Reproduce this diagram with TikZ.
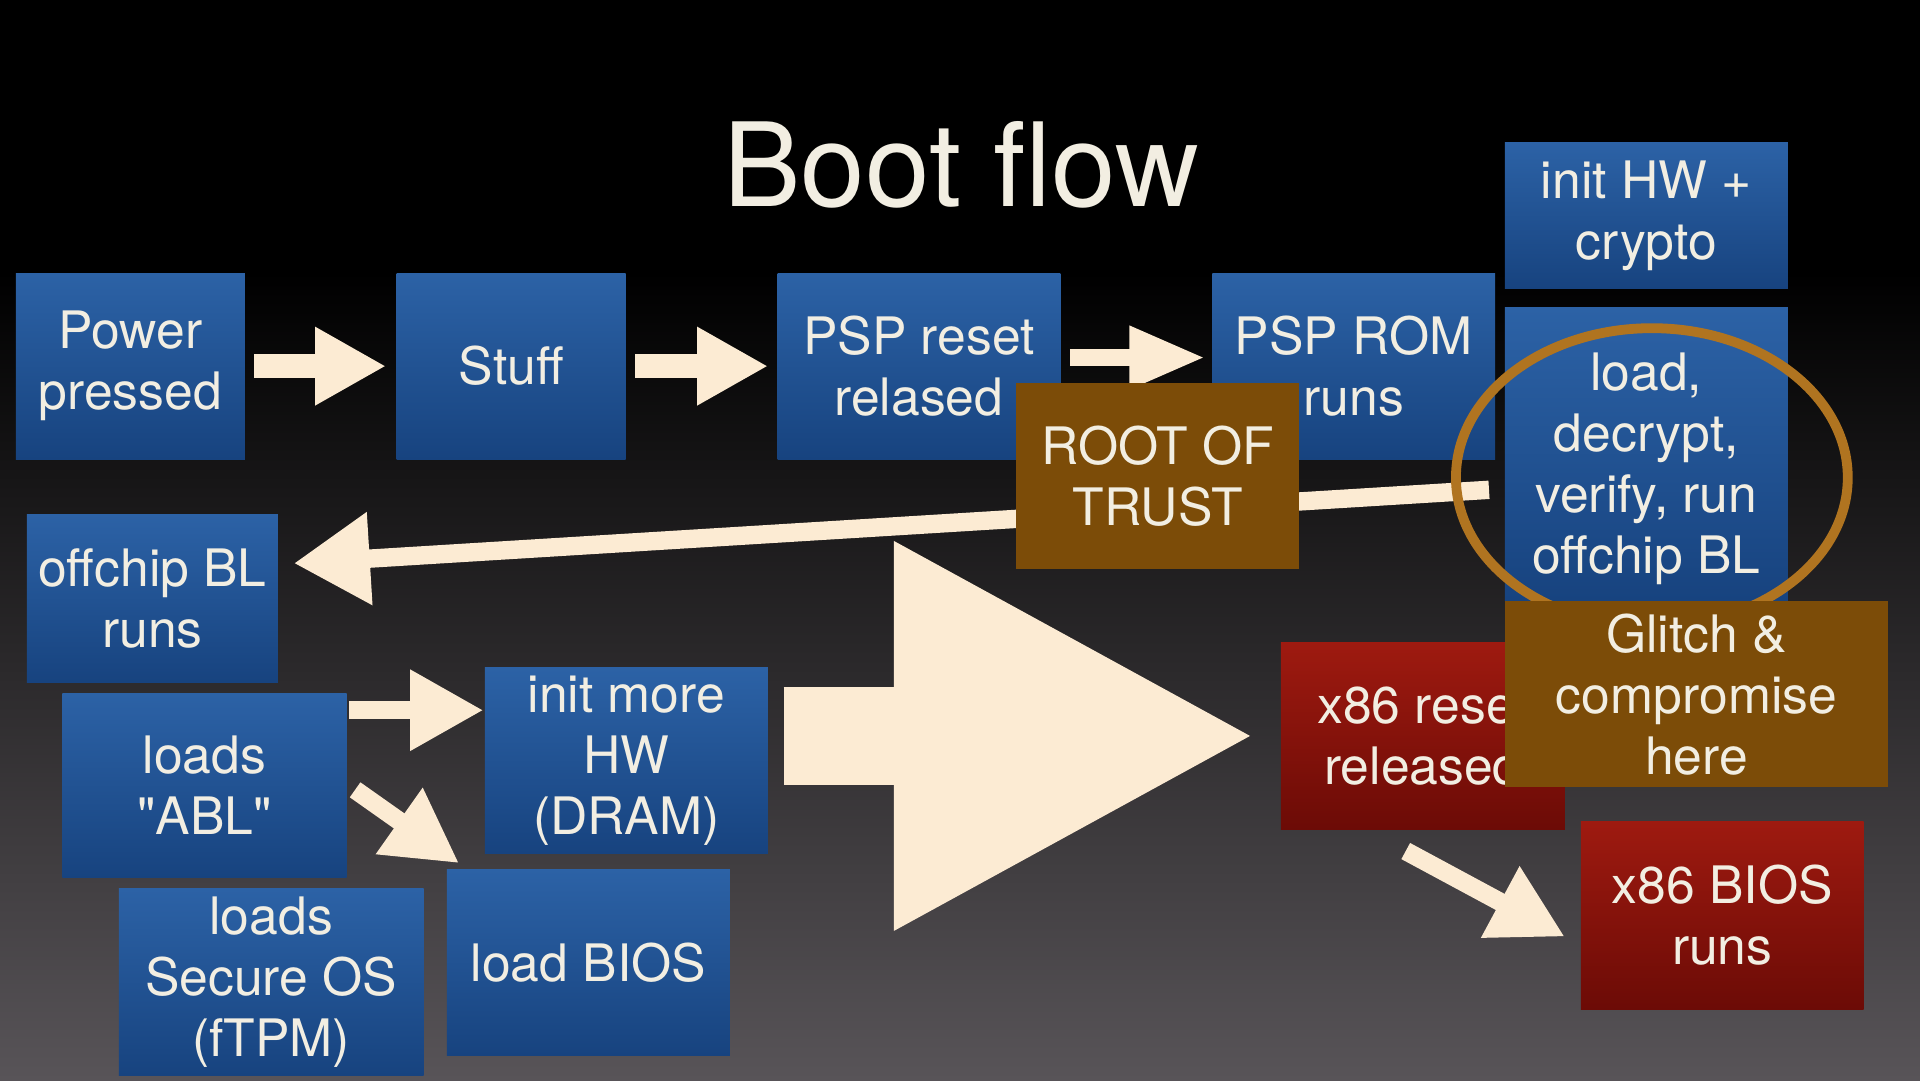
\documentclass[tikz,border=0pt]{standalone}
\usepackage{fontspec}
\setmainfont{TeX Gyre Heros}
\usetikzlibrary{arrows.meta}
\definecolor{bluetop}{HTML}{2C62A6}
\definecolor{bluebot}{HTML}{17437F}
\definecolor{brn}{HTML}{7C4C08}
\definecolor{redtop}{HTML}{9E1A10}
\definecolor{redbot}{HTML}{6C0B06}
\definecolor{txt}{HTML}{F2EEE2}
\definecolor{cream}{HTML}{FCEBD3}
\definecolor{ring}{HTML}{B07420}
\begin{document}
\begin{tikzpicture}[
  box/.style={draw=none,align=center,text=txt,inner sep=0pt,
    font=\fontsize{12}{14.2}\selectfont},
  bbox/.style={box,top color=bluetop,bottom color=bluebot},
  rbox/.style={box,top color=redtop,bottom color=redbot},
  obox/.style={box,fill=brn},
  sz/.style 2 args={minimum width=#1cm,minimum height=#2cm},
  blk/.style={draw=cream,line width=0.2cm,-{Triangle[length=0.58cm,width=0.6cm]}},
  thin/.style={draw=cream,line width=0.15cm,-{Triangle[length=0.6cm,width=0.62cm]}}
]
\useasboundingbox (0,0) rectangle (15.68,8.82);
\fill[black] (0,6.5) rectangle (15.68,8.82);
\shade[top color=black,bottom color={rgb,255:red,88;green,84;blue,88}] (0,0) rectangle (15.68,6.6);

\node[text=txt,font=\fontsize{27}{32}\selectfont] (title) at (7.85,7.47) {Boot flow};

\node[bbox,sz={1.87}{1.52}] (power) at (1.065,5.83) {Power\\pressed};
\node[bbox,sz={1.87}{1.52}] (stuff) at (4.175,5.83) {Stuff};
\node[bbox,sz={2.31}{1.52}] (reset) at (7.505,5.83) {PSP reset\\relased};
\node[bbox,sz={2.31}{1.52}] (rom) at (11.055,5.83) {PSP ROM\\runs};
\node[bbox,sz={2.31}{1.20}] (inithw) at (13.445,7.06) {init HW +\\crypto};
\node[bbox,sz={2.31}{2.39}] (load) at (13.445,5.115) {};
\node[box] (loadtxt) at (13.445,4.99) {load,\\decrypt,\\verify, run\\offchip BL};
\node[bbox,sz={2.05}{1.37}] (offchip) at (1.245,3.935) {offchip BL\\runs};
\node[bbox,sz={2.32}{1.51}] (abl) at (1.67,2.405) {loads\\\textquotedbl ABL\textquotedbl};
\node[bbox,sz={2.31}{1.52}] (initmore) at (5.115,2.61) {init more\\HW\\(DRAM)};
\node[bbox,sz={2.49}{1.52}] (sos) at (2.215,0.80) {loads\\Secure OS\\(fTPM)};
\node[bbox,sz={2.31}{1.52}] (lbios) at (4.805,0.96) {load BIOS};
\node[rbox,sz={2.32}{1.52}] (xreset) at (11.62,2.81) {x86 reset\\released};
\node[rbox,sz={2.31}{1.53}] (xbios) at (14.065,1.345) {x86 BIOS\\runs};

\path[blk] (power.east) [shorten <=0.07cm,shorten >=0.08cm] -- (stuff.west);
\path[blk] (stuff.east) [shorten <=0.07cm,shorten >=0.07cm] -- (reset.west);
\path[draw=cream,line width=0.14cm,-{Triangle[length=0.62cm,width=0.48cm]}] ([yshift=0.07cm]reset.east) [shorten <=0.07cm,shorten >=0.05cm] -- ([yshift=0.07cm]rom.west);

\coordinate (lt) at (12.16,4.82);
\coordinate (ot) at (2.40,4.22);
\path[draw=cream,line width=0.15cm,-{Triangle[length=0.62cm,width=0.72cm]}] (lt) -- (ot);

\node[obox,sz={2.31}{1.52}] (rot) at (9.455,4.93) {ROOT OF\\TRUST};

\draw[ring,line width=0.08cm] (13.49,4.92) ellipse [x radius=1.6cm,y radius=1.22cm];

\node[obox,sz={3.13}{1.52}] (glitch) at (13.855,3.15) {Glitch \&\\compromise\\here};

\coordinate (ablr) at (2.85,3.02);
\coordinate (imw) at (3.95,3.02);
\path[thin] (ablr) -- (imw);
\coordinate (abld) at (2.90,2.37);
\coordinate (lbt) at (3.75,1.77);
\path[thin] (abld) -- (lbt);
\coordinate (xrd) at (11.48,1.87);
\coordinate (xbt) at (12.78,1.17);
\path[thin] (xrd) -- (xbt);

\coordinate (bigs) at (6.40,2.81);
\coordinate (bige) at (10.27,2.81);
\path[draw=cream,line width=0.8cm,-{Triangle[length=2.97cm,width=2.95cm]}] (bigs) -- (bige);
\end{tikzpicture}
\end{document}
